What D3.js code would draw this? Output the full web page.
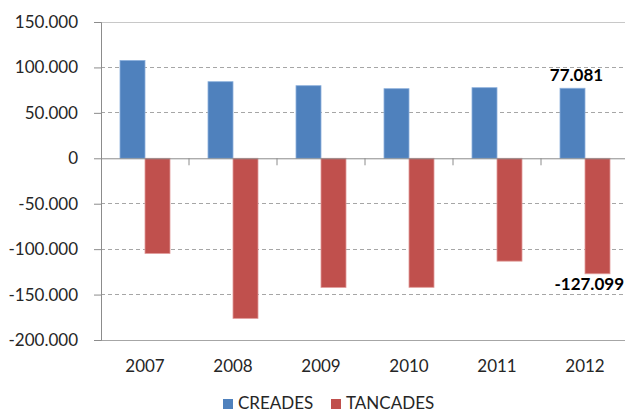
<!DOCTYPE html>
<html><head><meta charset="utf-8">
<script src="https://cdn.jsdelivr.net/npm/d3@7"></script>
<style>body{margin:0;background:#fff}svg{display:block}</style>
</head><body>
<svg id="c" width="625" height="413"></svg>
<script>
const years = ["2007","2008","2009","2010","2011","2012"];
const seriesNames = ["CREADES","TANCADES"];
const creades = [107700, 84300, 79900, 76600, 77700, 77081];
const tancades = [-104700, -176200, -142100, -142000, -113200, -127099];
const yTicks = [-200000,-150000,-100000,-50000,0,50000,100000,150000];
const colors = ["#4F81BD","#C0504D"];
const strokes = ["#8cb0dc","#e09a98"];

(function(){
const svg = d3.select("#c");
const font = "Lato, 'Open Sans', sans-serif";
const pLeft = 101, pRight = 629, pTop = 22, pBottom = 340;

const x = d3.scaleBand().domain(years).range([pLeft, pRight]).padding(0);
const xs = d3.scaleBand().domain(seriesNames).range([0, x.bandwidth()]).paddingInner(0).paddingOuter(0.76);
const y = d3.scaleLinear().domain([-200000, 150000]).range([pBottom, pTop]);
const loc = d3.formatLocale({decimal: ",", thousands: ".", grouping: [3], currency: ["", "€"], minus: "-"});
const fmt = loc.format(",");

// gridlines
svg.append("g").selectAll("line").data(yTicks.filter(t => t !== 0 && t !== -200000 && t !== 150000))
  .join("line").attr("x1", pLeft).attr("x2", pRight).attr("y1", d => y(d)).attr("y2", d => y(d))
  .attr("stroke", "#a6a6a6").attr("stroke-dasharray", "4,3").attr("shape-rendering","crispEdges");
svg.append("line").attr("x1", pLeft).attr("x2", pRight).attr("y1", y(150000)).attr("y2", y(150000))
  .attr("stroke", "#c8c8c8").attr("shape-rendering","crispEdges");
svg.append("line").attr("x1", pLeft).attr("x2", pRight).attr("y1", y(-200000)).attr("y2", y(-200000))
  .attr("stroke", "#a6a6a6").attr("shape-rendering","crispEdges");

// y axis
const yAxis = d3.axisLeft(y).tickValues(yTicks).tickFormat(fmt).tickSize(7).tickPadding(16);
const ga = svg.append("g").attr("transform", `translate(${pLeft},0)`).call(yAxis);
ga.select(".domain").attr("stroke", "#8c8c8c");
ga.selectAll(".tick line").attr("stroke", "#8c8c8c");
ga.selectAll("text").attr("font-family", font).attr("font-size", 17).attr("fill", "#262626");

// bars
const data = years.map((yr, i) => ({yr, vals: [creades[i], tancades[i]]}));
const g = svg.append("g");
seriesNames.forEach((s, si) => {
  g.selectAll(".b" + si).data(data).join("rect").attr("class", "b" + si)
    .attr("x", d => x(d.yr) + xs(s))
    .attr("width", xs.bandwidth())
    .attr("y", d => y(Math.max(0, d.vals[si])))
    .attr("height", d => Math.abs(y(d.vals[si]) - y(0)))
    .attr("fill", colors[si]).attr("stroke", strokes[si]).attr("stroke-width", 0.8);
});

// x axis at zero
const xAxis = d3.axisBottom(x).tickSize(7).tickFormat("");
const gx = svg.append("g").attr("transform", `translate(0,${y(0)})`).call(xAxis);
gx.select(".domain").attr("stroke", "#8c8c8c").attr("d", `M${pLeft},0.5H${pRight}`);
gx.selectAll(".tick").attr("transform", d => `translate(${x(d) + x.bandwidth()},0)`);
gx.selectAll(".tick line").attr("stroke", "#8c8c8c");

// category labels at bottom
svg.append("g").selectAll("text").data(years).join("text")
  .attr("x", d => x(d) + x.bandwidth()/2).attr("y", 372)
  .attr("text-anchor", "middle").attr("font-family", font).attr("font-size", 17).attr("fill", "#262626")
  .text(d => d);

// data labels for last year
const last = years.length - 1;
svg.append("text").attr("x", x(years[last]) + xs("CREADES") + xs.bandwidth()/2 + 4)
  .attr("y", y(creades[last]) - 7).attr("text-anchor", "middle")
  .attr("font-family", font).attr("font-weight", "bold").attr("font-size", 17).attr("fill", "#000")
  .text(fmt(creades[last]));
svg.append("text").attr("x", 624)
  .attr("y", y(tancades[last]) + 16).attr("text-anchor", "end")
  .attr("font-family", font).attr("font-weight", "bold").attr("font-size", 17).attr("fill", "#000")
  .text(fmt(tancades[last]));

// legend
const legX = [223, 331];
seriesNames.forEach((s, i) => {
  svg.append("rect").attr("x", legX[i]).attr("y", 399).attr("width", 10).attr("height", 10).attr("fill", colors[i]);
  svg.append("text").attr("x", legX[i] + 15).attr("y", 409).attr("font-family", font).attr("font-size", 17)
    .attr("fill", "#262626").text(s);
});
})();
</script>
</body></html>
